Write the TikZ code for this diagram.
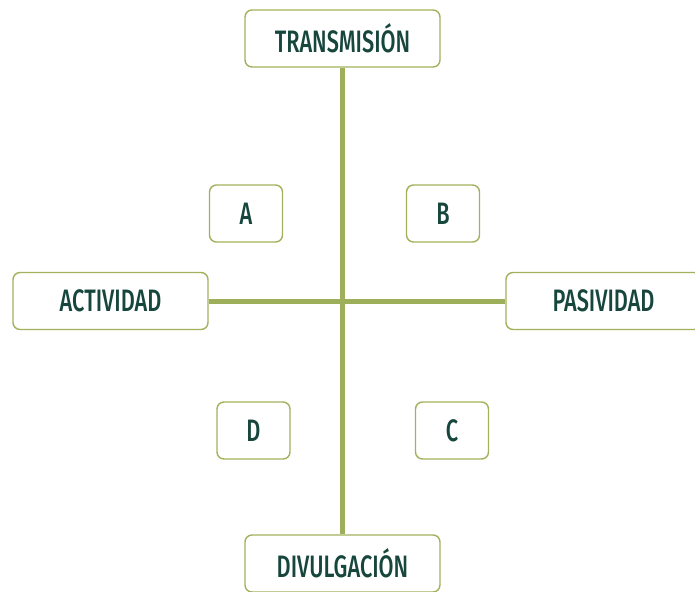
\documentclass[tikz,border=0pt]{standalone}
\usepackage{fontspec}
\setmainfont{Fira Sans Medium}[FakeStretch=0.7]
\definecolor{olivedge}{HTML}{A3B15C}
\definecolor{olivebar}{HTML}{9DAF5B}
\definecolor{inkteal}{HTML}{17463C}
\tikzset{
  axisbox/.style={draw=olivedge, line width=1.4pt, rounded corners=7pt, fill=white,
    minimum width=195pt, minimum height=57pt, inner sep=0pt,
    text=inkteal, font=\fontsize{31}{31}\selectfont},
  quadbox/.style={axisbox, minimum width=73pt},
  axisbar/.style={draw=olivebar, line width=5pt}
}
\begin{document}
\begin{tikzpicture}[x=1pt, y=-1pt]
\useasboundingbox (0,0) rectangle (695,591);
% axis end boxes
\node[axisbox] (trans) at (342.5,38.5) {TRANSMISIÓN};
\node[axisbox] (divul) at (342.5,563.5) {DIVULGACIÓN};
\node[axisbox] (activ) at (110.5,301) {ACTIVIDAD};
\node[axisbox] (pasiv) at (603.5,301) {PASIVIDAD};
% axes
\draw[axisbar] (trans.south) -- (divul.north);
\draw[axisbar] (activ.east) -- (pasiv.west);
% quadrant labels
\node[quadbox] (qa) at (246,213.5) {A};
\node[quadbox] (qb) at (443,213.5) {B};
\node[quadbox] (qd) at (253.5,430.5) {D};
\node[quadbox] (qc) at (452,430.5) {C};
\end{tikzpicture}
\end{document}
